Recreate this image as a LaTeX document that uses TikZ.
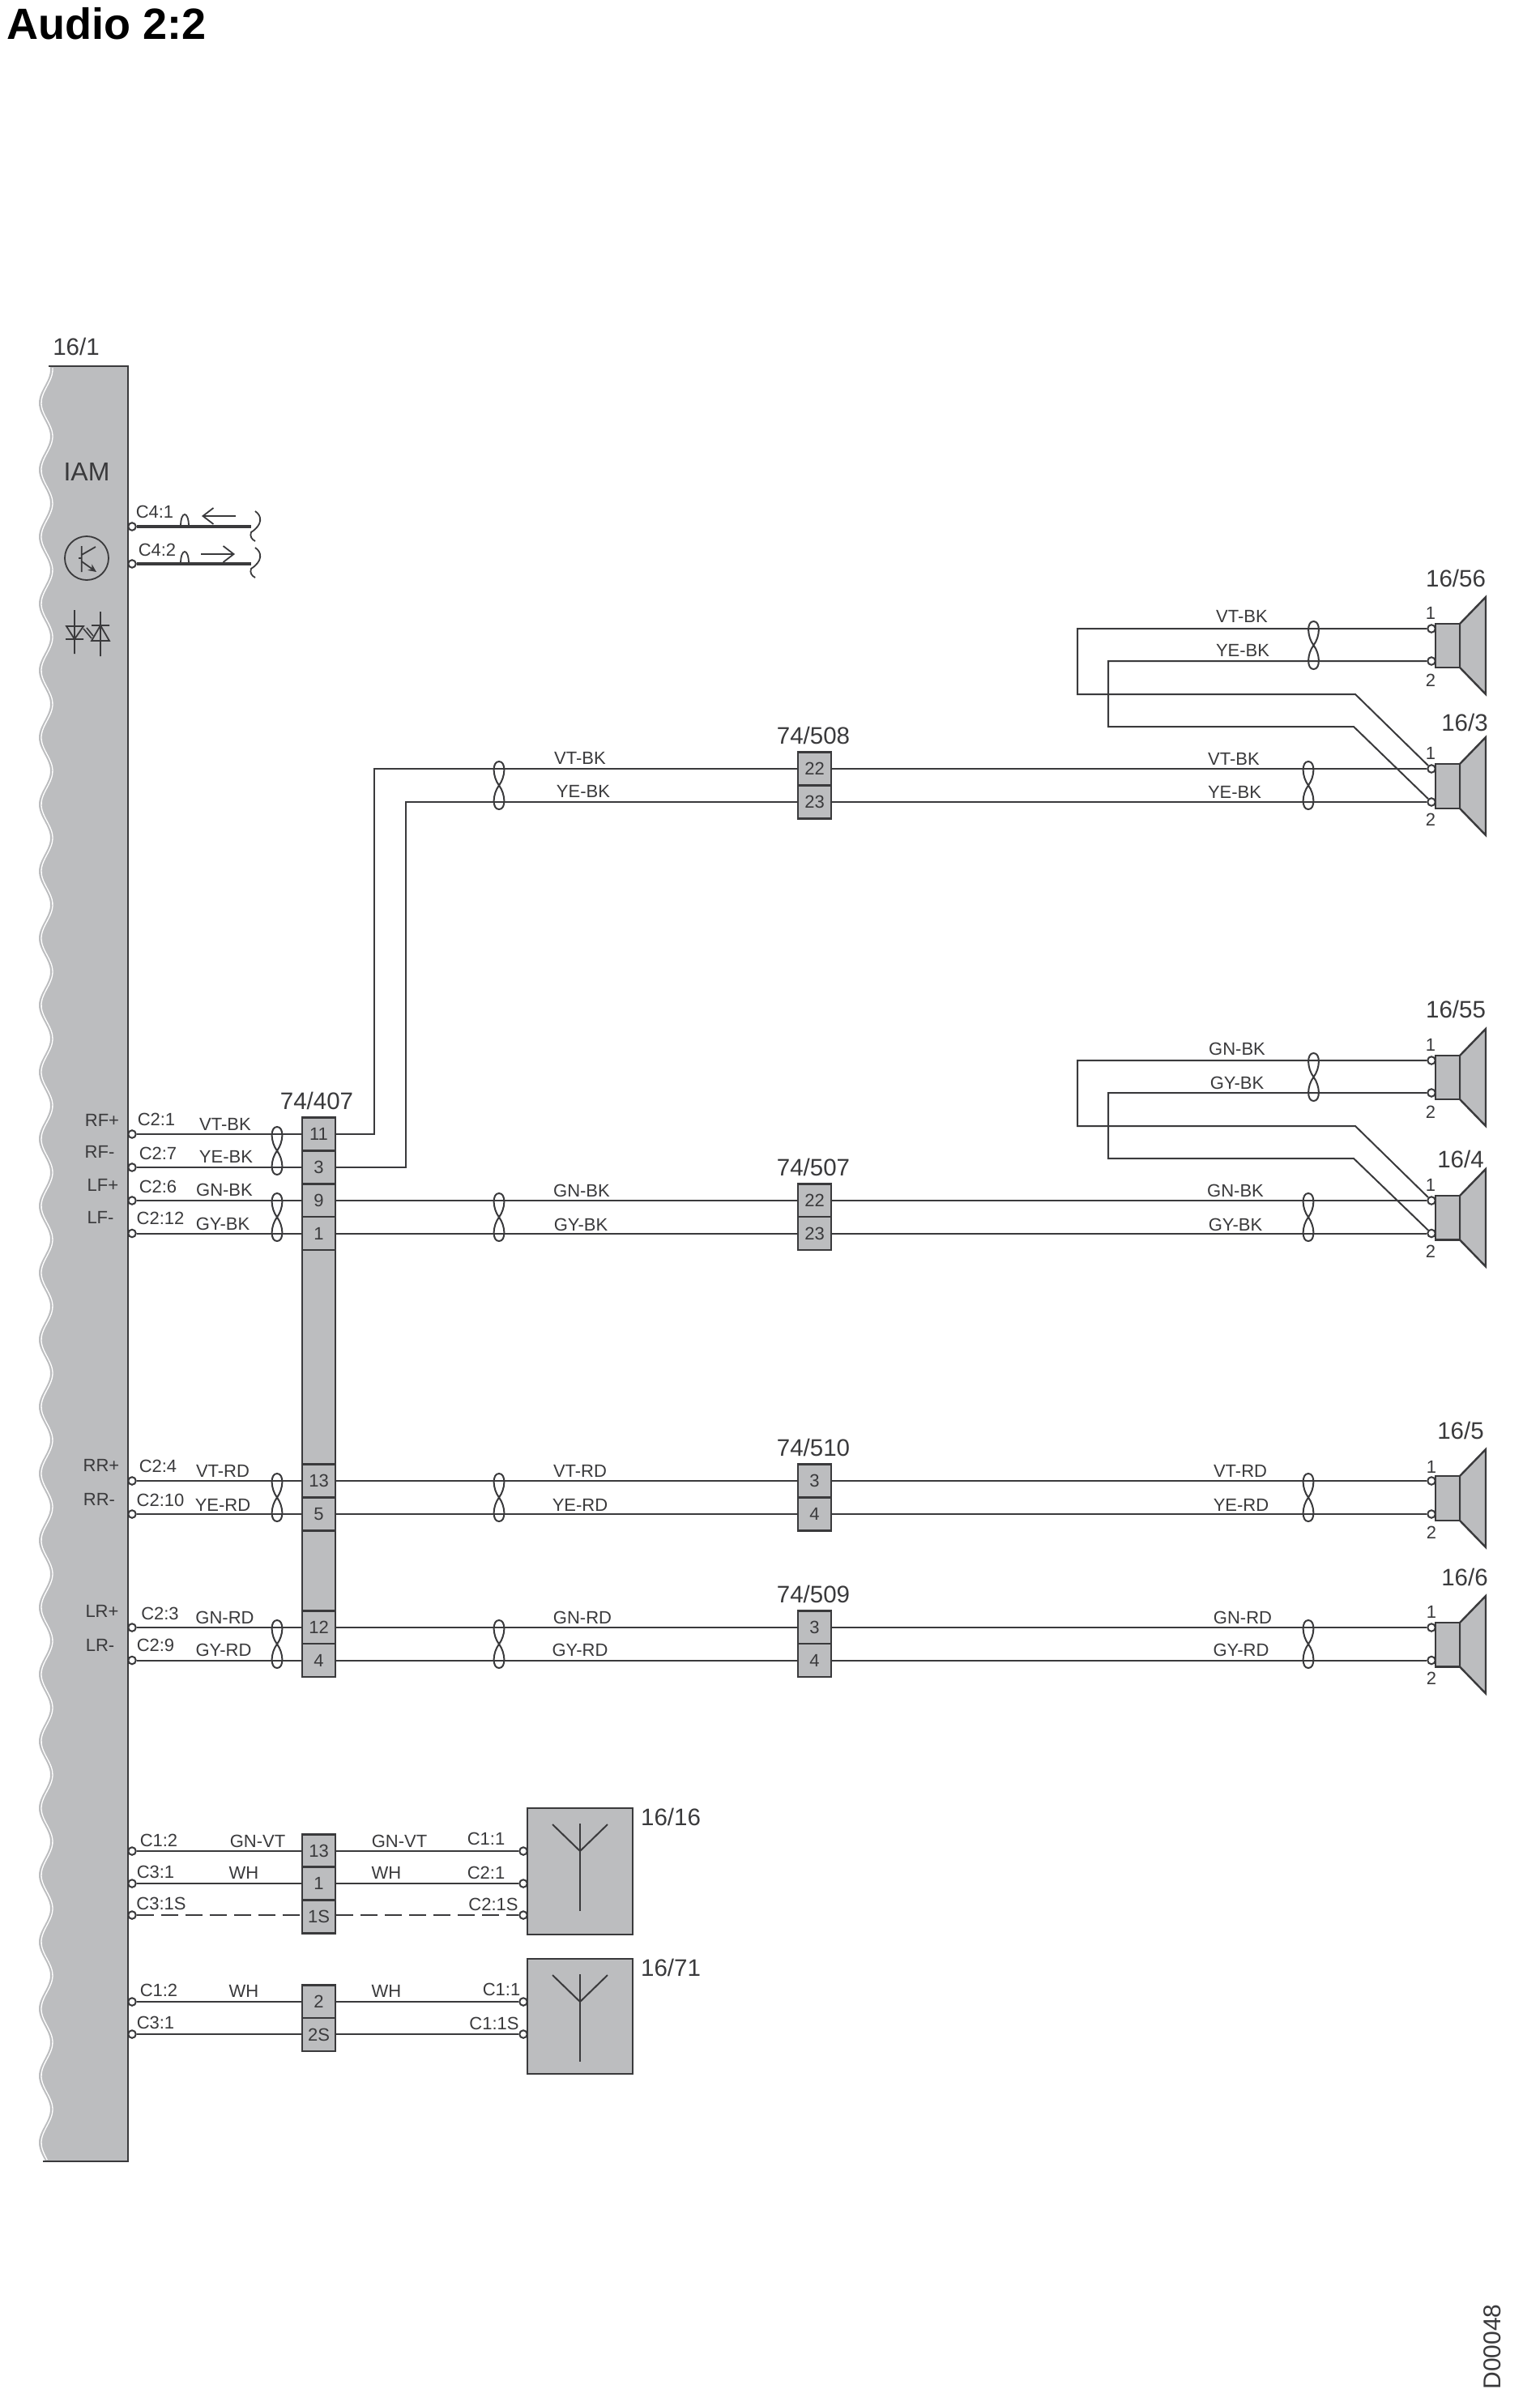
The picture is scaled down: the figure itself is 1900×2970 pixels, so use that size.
\documentclass[tikz,border=0pt]{standalone}
\usepackage{fontspec}
\setmainfont{Liberation Sans}
\usetikzlibrary{arrows.meta}
\definecolor{dk}{HTML}{3A3A3C}
\definecolor{gr}{HTML}{BCBDBF}
\definecolor{tx}{HTML}{3A3A3C}
\newcounter{lb}
\tikzset{
  wire/.style={draw=dk,line width=2pt},
  outl/.style={draw=dk,line width=2.4pt},
  lbl/.style={inner sep=0pt,text=tx,font=\fontsize{22}{26}\selectfont},
  big/.style={inner sep=0pt,text=tx,font=\fontsize{29.5}{33}\selectfont},
  cell/.style={rectangle,fill=gr,outl,inner sep=0pt,minimum width=41pt,minimum height=41pt,text=tx,font=\fontsize{22}{26}\selectfont},
  pin/.style={circle,fill=white,draw=dk,line width=2pt,inner sep=0pt,minimum size=9.5pt},
  twistline/.style={draw=dk,line width=2pt},
}
% label helpers: x, y, text
\newcommand\lab[3]{\stepcounter{lb}\node[lbl] (t\arabic{lb}) at (#1,#2) {#3};}
\newcommand\biglab[3]{\stepcounter{lb}\node[big] (t\arabic{lb}) at (#1,#2) {#3};}
% cell: name, x, y, text
\newcommand\cellnode[4]{\node[cell] (#1) at (#2,#3) {#4};}
% pin: name, x, y
\newcommand\pinnode[3]{\node[pin] (#1) at (#2,#3) {};}
% twist: x, upper row y
\newcommand\twist[2]{\draw[twistline,shift={(#1,#2)}] (0,20.5)
  .. controls (8,10) and (9,-9) .. (0,-9) .. controls (-9,-9) and (-8,10) .. (0,20.5)
  .. controls (8,31) and (9,50) .. (0,50) .. controls (-9,50) and (-8,31) .. (0,20.5);}
% speaker: name, row1, row2
\newcommand\speaker[3]{
  \draw[outl,fill=gr] (1802,#2-6) -- (1834,#2-39) -- (1834,#3+41) -- (1802,#3+8) -- cycle;
  \draw[outl,fill=gr] (1772,#2-6) rectangle (1802,#3+8);
  \pinnode{#1-1}{1767}{#2}
  \pinnode{#1-2}{1767}{#3}
}
% antenna: vertex y, top y, bottom y
\newcommand\antenna[3]{
  \draw[wire] (716,#2) -- (716,#3);
  \draw[wire] (682,#2+1) -- (716,#1) -- (750,#2+1);
}
\begin{document}
\begin{tikzpicture}[x=1pt,y=-1pt]
\useasboundingbox (0,0) rectangle (1900,2970);
\fill[white] (0,0) rectangle (1900,2970);

% title
\node[inner sep=0pt,anchor=west,font=\bfseries\fontsize{54}{60}\selectfont] (title) at (8,29) {Audio 2:2};
\node[inner sep=0pt,rotate=90,text=tx,font=\fontsize{30}{34}\selectfont] (code) at (1842,2897) {D00048};

% module 16/1
\fill[gr] (158,452) -- (62,452) -- plot[domain=452:2668,samples=500,smooth] ({55-7*cos((\x-580)/82.6*360)},\x) -- (158,2668) -- cycle;
\draw[white,line width=1.3pt] plot[domain=454:2666,samples=500,smooth] ({58-7*cos((\x-580)/82.6*360)},\x);
\draw[outl] (60,452) -- (158,452) -- (158,2668) -- (53,2668);
\biglab{94}{428}{16/1}
\node[inner sep=0pt,text=tx,font=\fontsize{32}{36}\selectfont] (iam) at (107,582) {IAM};

% transistor symbol
\draw[draw=dk,line width=1.8pt] (107,689) circle (27);
\draw[draw=dk,line width=1.8pt] (100.7,674) -- (100.7,706) (97,689) -- (100.7,689) (100.7,685) -- (118,675);
\draw[draw=dk,line width=1.8pt,-{Stealth[length=10pt,width=9pt]}] (100.7,693) -- (119,706);
% opto symbol
\draw[draw=dk,line width=1.8pt] (92,753) -- (92,807) (81,789) -- (103,789) (82,773) -- (103,773) -- (92,789) -- cycle;
\draw[draw=dk,line width=1.8pt] (124,755) -- (124,810) (113,772) -- (135,772) (124,772) -- (113,791) -- (135,791) -- cycle;
\draw[draw=dk,line width=1.6pt] (103,776) -- (113,788) (107,775) -- (115,785);

% C4 wires
\pinnode{c41}{163}{650}
\pinnode{c42}{163}{696}
\coordinate (c41e) at (310,650);
\coordinate (c42e) at (310,696);
\draw[draw=dk,line width=4.2pt] (c41) -- (c41e);
\draw[draw=dk,line width=3.2pt] (c42) -- (c42e);
\draw[wire,line width=1.8pt] (223,650) .. controls (223,630) and (233,630) .. (233,650);
\draw[wire,line width=1.8pt] (223,696) .. controls (223,676) and (233,676) .. (233,696);
\draw[draw=dk,line width=1.8pt,-{Straight Barb[length=13pt,width=20pt]}] (291,637) -- (249,637);
\draw[draw=dk,line width=1.8pt,-{Straight Barb[length=13pt,width=20pt]}] (248,684) -- (290,684);
\draw[draw=dk,line width=1.8pt] (315,631) .. controls (324,637) and (324,648) .. (310,657) .. controls (308,662) and (311,666) .. (315,668);
\draw[draw=dk,line width=1.8pt] (315,676) .. controls (324,682) and (324,693) .. (310,702) .. controls (308,707) and (311,711) .. (315,713);
\lab{191}{632}{C4:1}
\lab{194}{679}{C4:2}

% connector 74/407
\biglab{391}{1359}{74/407}
\cellnode{k11}{393.5}{1400}{11}
\cellnode{k3}{393.5}{1441}{3}
\cellnode{k9}{393.5}{1482}{9}
\cellnode{k1}{393.5}{1522.5}{1}
\node[cell,minimum height=265pt] (kf1) at (393.5,1675.5) {};
\cellnode{k13}{393.5}{1828}{13}
\cellnode{k5}{393.5}{1869}{5}
\node[cell,minimum height=99pt] (kf2) at (393.5,1939) {};
\cellnode{k12}{393.5}{2009}{12}
\cellnode{k4}{393.5}{2049.5}{4}

% inline connectors
\biglab{1004}{908}{74/508}
\cellnode{a22}{1005.5}{949}{22}
\cellnode{a23}{1005.5}{990}{23}
\biglab{1004}{1441}{74/507}
\cellnode{b22}{1005.5}{1482}{22}
\cellnode{b23}{1005.5}{1522.5}{23}
\biglab{1004}{1787}{74/510}
\cellnode{c3}{1005.5}{1828}{3}
\cellnode{c4}{1005.5}{1869}{4}
\biglab{1004}{1968}{74/509}
\cellnode{d3}{1005.5}{2009}{3}
\cellnode{d4}{1005.5}{2049.5}{4}

% speakers
\speaker{s56}{776}{816}
\speaker{s3}{949}{990}
\speaker{s55}{1309}{1349}
\speaker{s4}{1482}{1522.5}
\speaker{s5}{1828}{1869}
\speaker{s6}{2009}{2049.5}
\biglab{1797}{714}{16/56}
\biglab{1808}{892}{16/3}
\biglab{1797}{1246}{16/55}
\biglab{1803}{1431}{16/4}
\biglab{1803}{1766}{16/5}
\biglab{1808}{1947}{16/6}
\lab{1766}{757}{1}\lab{1766}{840}{2}
\lab{1766}{930}{1}\lab{1766}{1012}{2}
\lab{1766}{1290}{1}\lab{1766}{1373}{2}
\lab{1766}{1463}{1}\lab{1766}{1545}{2}
\lab{1767}{1811}{1}\lab{1767}{1892}{2}
\lab{1767}{1990}{1}\lab{1767}{2072}{2}

% left pins and wires
\pinnode{l1}{163}{1400}\pinnode{l2}{163}{1441}\pinnode{l3}{163}{1482}\pinnode{l4}{163}{1522.5}
\pinnode{l5}{163}{1828}\pinnode{l6}{163}{1869}\pinnode{l7}{163}{2009}\pinnode{l8}{163}{2049.5}
\draw[wire] (l1) -- (k11);\draw[wire] (l2) -- (k3);\draw[wire] (l3) -- (k9);\draw[wire] (l4) -- (k1);
\draw[wire] (l5) -- (k13);\draw[wire] (l6) -- (k5);\draw[wire] (l7) -- (k12);\draw[wire] (l8) -- (k4);

\draw[wire] (k11) -- (462,1400) -- (462,949) -- (a22);
\draw[wire] (k3) -- (501,1441) -- (501,990) -- (a23);
\draw[wire] (k9) -- (b22);\draw[wire] (k1) -- (b23);
\draw[wire] (k13) -- (c3);\draw[wire] (k5) -- (c4);
\draw[wire] (k12) -- (d3);\draw[wire] (k4) -- (d4);

\draw[wire] (a22) -- (s3-1);\draw[wire] (a23) -- (s3-2);
\draw[wire] (b22) -- (s4-1);\draw[wire] (b23) -- (s4-2);
\draw[wire] (c3) -- (s5-1);\draw[wire] (c4) -- (s5-2);
\draw[wire] (d3) -- (s6-1);\draw[wire] (d4) -- (s6-2);

% speaker-to-speaker
\draw[wire] (s56-1) -- (1330,776) -- (1330,857) -- (1673,857) -- (s3-1);
\draw[wire] (s56-2) -- (1368,816) -- (1368,897) -- (1671,897) -- (s3-2);
\draw[wire] (s55-1) -- (1330,1309) -- (1330,1390) -- (1673,1390) -- (s4-1);
\draw[wire] (s55-2) -- (1368,1349) -- (1368,1430) -- (1671,1430) -- (s4-2);

% twists
\twist{342}{1400}\twist{342}{1482}\twist{342}{1828}\twist{342}{2009}
\twist{616}{949}\twist{616}{1482}\twist{616}{1828}\twist{616}{2009}
\twist{1615}{949}\twist{1615}{1482}\twist{1615}{1828}\twist{1615}{2009}
\twist{1621.5}{776}\twist{1621.5}{1309}

% module-side labels
\lab{126}{1383}{RF+}\lab{123}{1422}{RF-}\lab{127}{1463}{LF+}\lab{124}{1503}{LF-}
\lab{125}{1809}{RR+}\lab{122.5}{1851}{RR-}\lab{126}{1989}{LR+}\lab{123.6}{2031}{LR-}
\lab{193}{1382}{C2:1}\lab{195}{1424}{C2:7}\lab{195}{1465}{C2:6}\lab{198}{1504}{C2:12}
\lab{195}{1810}{C2:4}\lab{198}{1852}{C2:10}\lab{197.5}{1992}{C2:3}\lab{192}{2031}{C2:9}
\lab{278}{1388}{VT-BK}\lab{279}{1428}{YE-BK}\lab{277}{1469}{GN-BK}\lab{275}{1511}{GY-BK}
\lab{275}{1816}{VT-RD}\lab{275}{1858}{YE-RD}\lab{277.5}{1997}{GN-RD}\lab{276}{2037}{GY-RD}
% middle labels
\lab{716}{936}{VT-BK}\lab{720}{977}{YE-BK}
\lab{718}{1470}{GN-BK}\lab{717}{1512}{GY-BK}
\lab{716}{1816}{VT-RD}\lab{716}{1858}{YE-RD}
\lab{719}{1997}{GN-RD}\lab{716}{2037}{GY-RD}
% right labels
\lab{1533}{761}{VT-BK}\lab{1534}{803}{YE-BK}
\lab{1523}{937}{VT-BK}\lab{1524}{978}{YE-BK}
\lab{1527}{1295}{GN-BK}\lab{1527}{1337}{GY-BK}
\lab{1525}{1470}{GN-BK}\lab{1525}{1512}{GY-BK}
\lab{1531}{1816}{VT-RD}\lab{1532}{1858}{YE-RD}
\lab{1534}{1997}{GN-RD}\lab{1532}{2037}{GY-RD}

% radio block 16/16
\node[rectangle,fill=gr,outl,inner sep=0pt,minimum width=130pt,minimum height=156pt] (ant1) at (716,2310) {};
\antenna{2285}{2251}{2359}
\biglab{828}{2243}{16/16}
\cellnode{r13}{393.5}{2285}{13}
\cellnode{r1}{393.5}{2325}{1}
\cellnode{r1s}{393.5}{2366}{1S}
\pinnode{m1}{163}{2285}\pinnode{m2}{163}{2325}\pinnode{m3}{163}{2364}
\pinnode{n1}{646}{2285}\pinnode{n2}{646}{2325}\pinnode{n3}{646}{2364}
\draw[wire] (m1) -- (r13);\draw[wire] (r13) -- (n1);
\draw[wire] (m2) -- (r1);\draw[wire] (r1) -- (n2);
\draw[wire,dash pattern=on 21pt off 9pt] (m3) -- (r1s.west |- m3);
\draw[wire,dash pattern=on 21pt off 9pt] (r1s.east |- n3) -- (n3);
\lab{196}{2272}{C1:2}\lab{318}{2273}{GN-VT}\lab{493}{2273}{GN-VT}\lab{600}{2270}{C1:1}
\lab{192}{2311}{C3:1}\lab{301}{2312}{WH}\lab{477}{2312}{WH}\lab{600}{2312}{C2:1}
\lab{199}{2350}{C3:1S}\lab{609}{2351}{C2:1S}

% radio block 16/71
\node[rectangle,fill=gr,outl,inner sep=0pt,minimum width=130pt,minimum height=142pt] (ant2) at (716,2489) {};
\antenna{2471}{2437}{2545}
\biglab{828}{2429}{16/71}
\cellnode{u2}{393.5}{2471}{2}
\cellnode{u2s}{393.5}{2511.5}{2S}
\pinnode{m4}{163}{2471}\pinnode{m5}{163}{2511}
\pinnode{n4}{646}{2471}\pinnode{n5}{646}{2511}
\draw[wire] (m4) -- (u2);\draw[wire] (u2) -- (n4);
\draw[wire] (m5) -- (u2s.west |- m5);\draw[wire] (u2s.east |- n5) -- (n5);
\lab{196}{2457}{C1:2}\lab{301}{2458}{WH}\lab{477}{2458}{WH}\lab{619}{2456}{C1:1}
\lab{192}{2497}{C3:1}\lab{610}{2498}{C1:1S}
\end{tikzpicture}
\end{document}
